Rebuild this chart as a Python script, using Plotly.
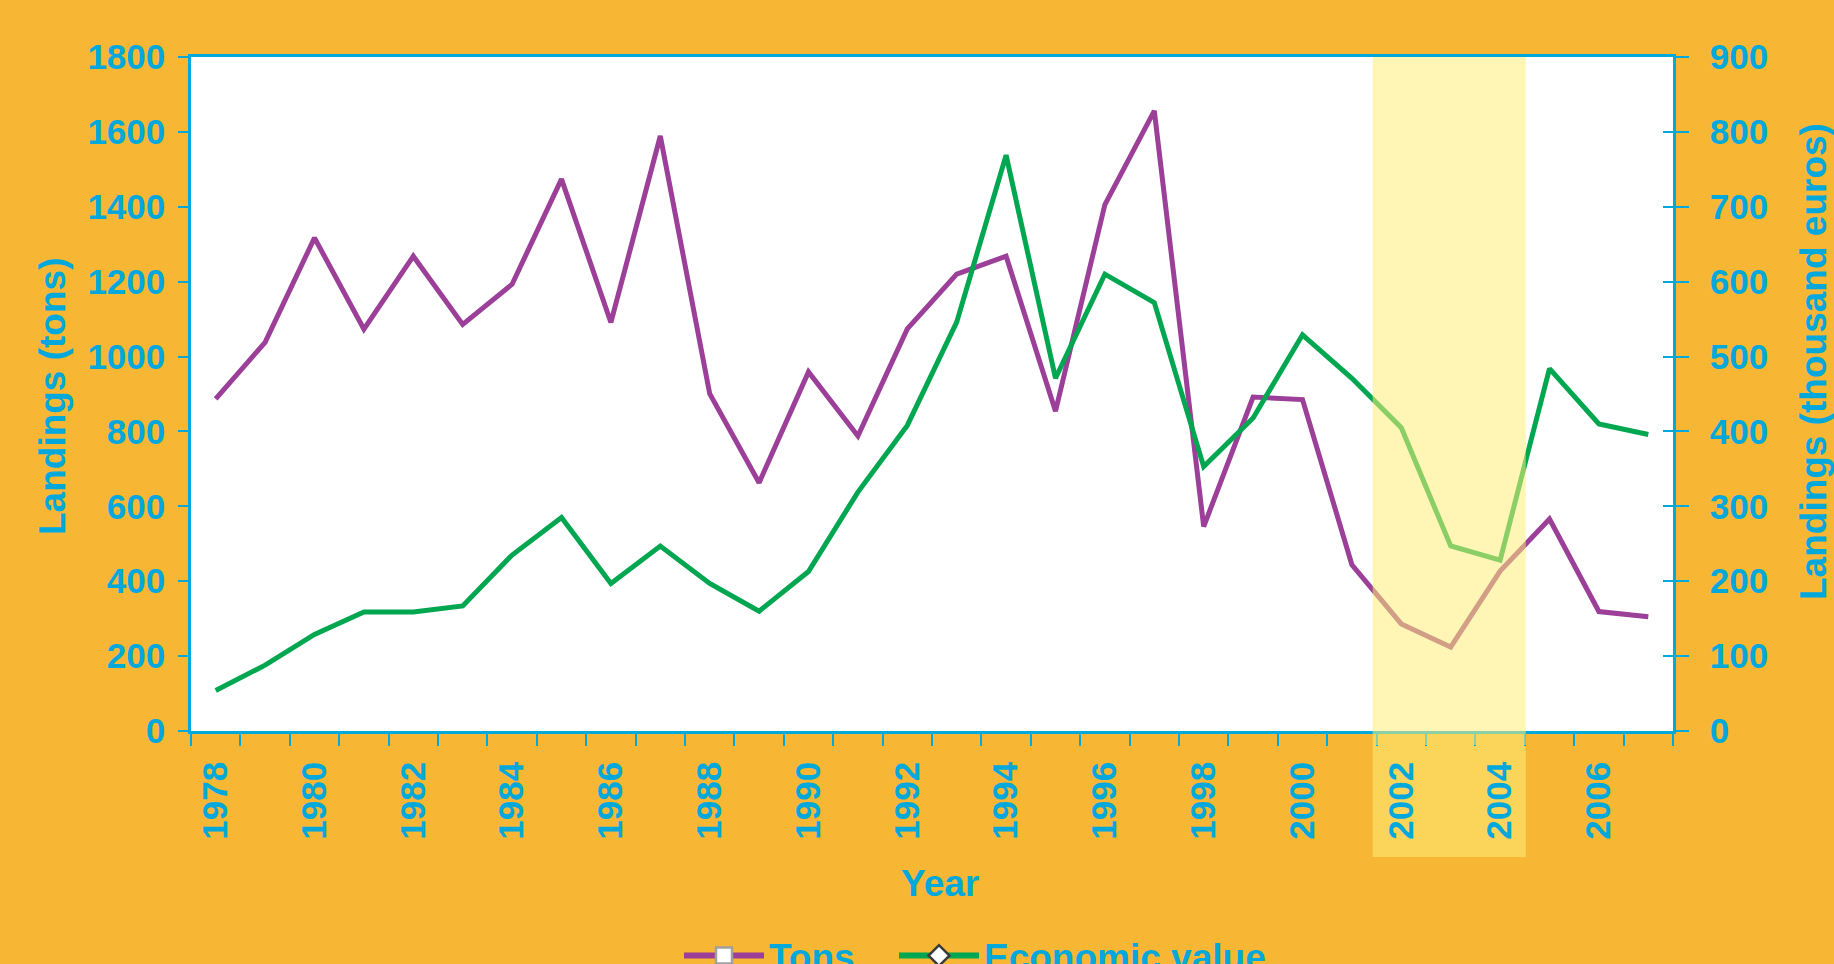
import plotly.graph_objects as go

years = list(range(1978, 2008))
tons = [887, 1038, 1317, 1073, 1268, 1086, 1193, 1474, 1091, 1589,
        901, 663, 959, 788, 1074, 1220, 1268, 854, 1406, 1656,
        546, 892, 885, 444, 286, 224, 427, 566, 319, 305]
economic_value = [54, 88, 129, 159, 159, 167, 235, 285, 197, 247,
                  197, 160, 213, 319, 408, 546, 769, 471, 610, 572,
                  353, 418, 529, 471, 405, 247, 228, 484, 410, 396]
tick_years = list(range(1978, 2008, 2))
boundaries = [y - 0.5 for y in range(1978, 2009)]
highlight_span = [2001.42, 2004.52]

BG = "#F7B634"
BLUE = "#00A8DC"
PURPLE = "#9B3F98"
GREEN = "#00A650"
HL = "rgba(255,238,120,0.55)"
FONT = "Liberation Sans, Arial, sans-serif"

W, H = 1834, 964
L, R, T, B = 191, 161, 57, 233
PH = H - T - B
PW = W - L - R

fig = go.Figure()
fig.add_trace(go.Scatter(x=years, y=tons, mode="lines", yaxis="y",
                         line=dict(color=PURPLE, width=5), showlegend=False, name="Tons"))
fig.add_trace(go.Scatter(x=years, y=economic_value, mode="lines", yaxis="y2",
                         line=dict(color=GREEN, width=5), showlegend=False, name="Economic value"))
# legend entries
fig.add_trace(go.Scatter(x=[None], y=[None], mode="lines+markers", name="Tons",
                         legend="legend",
                         line=dict(color=PURPLE, width=6),
                         marker=dict(symbol="square", size=16, color="white",
                                     line=dict(color="#A0A0A0", width=2.5))))
fig.add_trace(go.Scatter(x=[None], y=[None], mode="lines+markers", name="Economic value",
                         legend="legend2",
                         line=dict(color=GREEN, width=6),
                         marker=dict(symbol="diamond", size=16, color="white",
                                     line=dict(color="#3A3A3A", width=2.5))))

tickfont = dict(family=FONT, size=35, color=BLUE, weight="bold")
titlefont = dict(family=FONT, size=37, color=BLUE, weight="bold")
legfont = dict(family=FONT, size=37, color=BLUE, weight="bold")

fig.update_layout(
    width=W, height=H,
    paper_bgcolor=BG, plot_bgcolor="white",
    margin=dict(l=L, r=R, t=T, b=B, autoexpand=False),
    xaxis=dict(range=[1977.5, 2007.5], tickmode="array", tickvals=tick_years,
               ticktext=[str(y) for y in tick_years], tickangle=-90,
               ticks="outside", ticklen=14, tickcolor="rgba(0,0,0,0)",
               tickfont=tickfont, showgrid=False, zeroline=False,
               showline=True, linecolor=BLUE, linewidth=2.5, mirror=True,
               minor=dict(tickmode="array", tickvals=boundaries, ticks="outside",
                          ticklen=12, tickwidth=2, tickcolor=BLUE, showgrid=False)),
    yaxis=dict(range=[0, 1800], dtick=200, ticks="outside", ticklen=10, tickwidth=2,
               tickcolor=BLUE, tickfont=tickfont, showgrid=False, zeroline=False,
               showline=True, linecolor=BLUE, linewidth=2.5, ticklabelstandoff=6),
    yaxis2=dict(range=[0, 900], dtick=100, overlaying="y", side="right", anchor="x",
                ticks="outside", ticklen=13, tickwidth=2, tickcolor=BLUE,
                tickfont=tickfont, showgrid=False, zeroline=False,
                showline=True, linecolor=BLUE, linewidth=2.5, ticklabelstandoff=14),
    yaxis3=dict(range=[0, 900], dtick=100, overlaying="y", side="right", anchor="x",
                ticks="inside", ticklen=10, tickwidth=2, tickcolor=BLUE,
                showticklabels=False, showgrid=False, zeroline=False, showline=False),
    legend=dict(orientation="h", x=(679 - L) / PW, xanchor="left",
                y=(T + PH - 956) / PH, yanchor="middle", font=legfont,
                bgcolor="rgba(0,0,0,0)", itemwidth=80),
    legend2=dict(orientation="h", x=(894 - L) / PW, xanchor="left",
                 y=(T + PH - 956) / PH, yanchor="middle", font=legfont,
                 bgcolor="rgba(0,0,0,0)", itemwidth=80),
    showlegend=True,
)

# invisible trace to activate yaxis3
fig.add_trace(go.Scatter(x=[years[0]], y=[0], yaxis="y3", mode="markers",
                         marker=dict(opacity=0), showlegend=False, hoverinfo="skip"))

# highlight band: inside plot (above traces) and below the axis (under tick labels)
fig.add_shape(type="rect", xref="x", yref="paper",
              x0=highlight_span[0], x1=highlight_span[1], y0=-14 / PH, y1=1,
              fillcolor=HL, line=dict(width=0), layer="above")
fig.add_shape(type="rect", xref="x", yref="paper",
              x0=highlight_span[0], x1=highlight_span[1], y0=-126 / PH, y1=-14 / PH,
              fillcolor=HL, line=dict(width=0), layer="below")

fig.add_annotation(text="Landings (tons)", xref="paper", yref="paper",
                   x=(52 - L) / PW, y=(T + PH - 397) / PH, textangle=-90,
                   showarrow=False, xanchor="center", yanchor="middle", font=titlefont)
fig.add_annotation(text="Landings (thousand euros)", xref="paper", yref="paper",
                   x=(1813 - L) / PW, y=(T + PH - 362) / PH, textangle=-90,
                   showarrow=False, xanchor="center", yanchor="middle", font=titlefont)
fig.add_annotation(text="Year", xref="paper", yref="paper",
                   x=(940 - L) / PW, y=(T + PH - 884) / PH,
                   showarrow=False, xanchor="center", yanchor="middle", font=titlefont)

fig.write_html("out.html", config={"displayModeBar": False},
               post_script="document.body.style.margin='0';document.body.style.padding='0';")
